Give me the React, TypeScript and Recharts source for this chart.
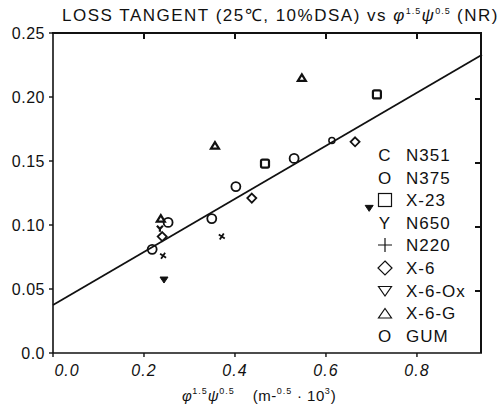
import React from 'react';
import { ScatterChart, Scatter, XAxis, YAxis, ReferenceLine } from 'recharts';

const xTicks = [0, 0.2, 0.4, 0.6, 0.8];
const xTickLabels = ['0.0', '0.2', '0.4', '0.6', '0.8'];
const yTicks = [0, 0.05, 0.1, 0.15, 0.2, 0.25];
const yTickLabels = ['0.0', '0.05', '0.10', '0.15', '0.20', '0.25'];
const xDomain = [0, 0.943];
const yDomain = [0, 0.25];

const seriesNames = ['N351', 'N375', 'X-23', 'N650', 'N220', 'X-6', 'X-6-Ox', 'X-6-G', 'GUM'];
const seriesKinds = ['C', 'O', 'square', 'Y', 'plus', 'diamond', 'triDown', 'triUp', 'O'];

// values
const n351 = [{ x: 0.613, y: 0.166 }];
const n375 = [
  { x: 0.349, y: 0.105 },
  { x: 0.402, y: 0.130 },
  { x: 0.530, y: 0.152 },
];
const x23 = [
  { x: 0.466, y: 0.148 },
  { x: 0.712, y: 0.202 },
];
const n650 = [{ x: 0.235, y: 0.097 }];
const n220 = [
  { x: 0.242, y: 0.076 },
  { x: 0.371, y: 0.091 },
];
const x6 = [
  { x: 0.240, y: 0.091 },
  { x: 0.437, y: 0.121 },
  { x: 0.664, y: 0.165 },
];
const x6ox = [
  { x: 0.244, y: 0.057 },
  { x: 0.695, y: 0.113 },
];
const x6g = [
  { x: 0.237, y: 0.105 },
  { x: 0.356, y: 0.162 },
  { x: 0.547, y: 0.215 },
];
const gum = [
  { x: 0.218, y: 0.081 },
  { x: 0.253, y: 0.102 },
];
const seriesData = [n351, n375, x23, n650, n220, x6, x6ox, x6g, gum];

// regression line end points
const fitX = [0, 0.943];
const fitY = [0.0375, 0.233];

const FONT = '"Liberation Sans", Arial, Helvetica, sans-serif';
const INK = '#111';

// chart box
const W = 501;
const H = 410;
const M = { top: 33, right: 19, bottom: 17, left: 0 };
const Y_AXIS_W = 53;
const X_AXIS_H = 40;
const plotL = M.left + Y_AXIS_W;
const plotT = M.top;
const plotW = W - M.right - plotL;
const plotH = H - M.bottom - X_AXIS_H - plotT;

const Marker = ({ kind, cx, cy }: { kind: string; cx: number; cy: number }) => {
  const sw = 1.8;
  switch (kind) {
    case 'C':
      return <circle cx={cx} cy={cy} r={3} fill="none" stroke={INK} strokeWidth={1.5} />;
    case 'O':
      return <circle cx={cx} cy={cy} r={4.5} fill="none" stroke={INK} strokeWidth={sw} />;
    case 'square':
      return <rect x={cx - 4} y={cy - 4} width={8} height={8} rx={1.5} fill="none" stroke={INK} strokeWidth={2.2} />;
    case 'Y':
      return (
        <path d={`M${cx - 3},${cy - 3} L${cx},${cy} L${cx + 3},${cy - 3} M${cx},${cy} L${cx},${cy + 3}`} stroke={INK} strokeWidth={2.2} fill="none" />
      );
    case 'plus':
      return (
        <path d={`M${cx - 3},${cy - 2} L${cx + 3},${cy + 2} M${cx - 2},${cy + 3} L${cx + 2},${cy - 3}`} stroke={INK} strokeWidth={1.8} fill="none" />
      );
    case 'diamond':
      return (
        <path d={`M${cx},${cy - 4.5} L${cx + 4.5},${cy} L${cx},${cy + 4.5} L${cx - 4.5},${cy} Z`} stroke={INK} strokeWidth={sw} fill="none" />
      );
    case 'triDown':
      return <path d={`M${cx - 4},${cy - 3} L${cx + 4},${cy - 3} L${cx},${cy + 3} Z`} fill={INK} stroke={INK} strokeWidth={1} />;
    case 'triUp':
      return <path d={`M${cx - 4},${cy + 3} L${cx + 4},${cy + 3} L${cx},${cy - 3.5} Z`} fill="#fff" stroke={INK} strokeWidth={2.2} />;
    default:
      return <circle cx={cx} cy={cy} r={4} fill="none" stroke={INK} />;
  }
};

const LegendGlyph = ({ kind }: { kind: string }) => {
  if (kind === 'C' || kind === 'O' || kind === 'Y') {
    return <span style={{ display: 'inline-block', width: 16, textAlign: 'center' }}>{kind}</span>;
  }
  const p = { fill: 'none', stroke: INK, strokeWidth: 1.2 };
  let shape: React.ReactNode = null;
  if (kind === 'square') shape = <rect x={1.5} y={1.5} width={13} height={13} {...p} />;
  if (kind === 'plus') shape = <path d="M1,8 L15,8 M8,1 L8,15" {...p} />;
  if (kind === 'diamond') shape = <path d="M8,1 L15,8 L8,15 L1,8 Z" {...p} />;
  if (kind === 'triDown') shape = <path d="M1.5,3.5 L14.5,3.5 L8,13 Z" {...p} />;
  if (kind === 'triUp') shape = <path d="M1.5,13 L14.5,13 L8,3.5 Z" {...p} />;
  return (
    <svg width={16} height={16} style={{ verticalAlign: '-2px' }}>
      {shape}
    </svg>
  );
};

const XTick = (props: any) => {
  const { x, y, payload } = props;
  const i = xTicks.indexOf(payload.value);
  // the 0.0 label sits right of the corner in the original
  const shift = payload.value === 0 ? 14 : 0;
  return (
    <text x={x + shift} y={y} dy="0.71em" textAnchor="middle" fontSize={16} fontStyle="italic" fontFamily={FONT} fill={INK} letterSpacing={1}>
      {xTickLabels[i]}
    </text>
  );
};

const YTick = (props: any) => {
  const { x, y, payload } = props;
  const i = yTicks.findIndex((t) => Math.abs(t - payload.value) < 1e-9);
  return (
    <text x={x} y={y} dy="0.355em" textAnchor="end" fontSize={16} fontFamily={FONT} fill={INK} letterSpacing={0.5}>
      {yTickLabels[i]}
    </text>
  );
};

// top and right edges of the box: a bordered div over the plot rect
const FrameBox = () => (
  <div
    style={{
      position: 'absolute',
      left: plotL - 1,
      top: plotT - 1,
      width: plotW + 1,
      height: plotH + 1,
      borderTop: `2px solid ${INK}`,
      borderRight: `2px solid ${INK}`,
      boxSizing: 'border-box',
      zIndex: 3,
      pointerEvents: 'none',
    }}
  >
    {xTicks.slice(1).map((t) => (
      <div
        key={`t${t}`}
        style={{
          position: 'absolute',
          top: 0,
          left: ((t - xDomain[0]) / (xDomain[1] - xDomain[0])) * plotW,
          width: 2,
          height: 5,
          background: INK,
        }}
      />
    ))}
    {yTicks.slice(1, -1).map((t) => (
      <div
        key={`r${t}`}
        style={{
          position: 'absolute',
          right: 0,
          top: plotH - ((t - yDomain[0]) / (yDomain[1] - yDomain[0])) * plotH,
          width: 5,
          height: 2,
          background: INK,
        }}
      />
    ))}
  </div>
);

const sup: React.CSSProperties = { fontSize: 9, verticalAlign: 7, letterSpacing: 1 };

export default function App() {
  const axisLine = { stroke: INK, strokeWidth: 1.6 };
  const tickLine = { stroke: INK, strokeWidth: 1.4 };
  return (
    <div style={{ position: 'absolute', left: 0, top: 0, width: W, height: H, background: '#fff', fontFamily: FONT, color: INK }}>
      <div style={{ position: 'absolute', left: 62, top: 0, fontSize: 17, letterSpacing: 1.5, whiteSpace: 'nowrap', lineHeight: '22px' }}>
        LOSS TANGENT (25℃, 10%DSA) vs <i>φ</i>
        <span style={sup}>1.5</span>
        <i>ψ</i>
        <span style={sup}>0.5</span> (NR)
      </div>
      <ScatterChart width={W} height={H} margin={M}>
        <XAxis
          type="number"
          dataKey="x"
          domain={xDomain}
          ticks={xTicks}
          allowDataOverflow
          height={X_AXIS_H}
          tickSize={4}
          tickMargin={8}
          axisLine={axisLine}
          tickLine={tickLine}
          tick={<XTick />}
        />
        <YAxis
          type="number"
          dataKey="y"
          domain={yDomain}
          ticks={yTicks}
          allowDataOverflow
          width={Y_AXIS_W}
          tickSize={4}
          tickMargin={4}
          axisLine={axisLine}
          tickLine={tickLine}
          tick={<YTick />}
        />
        <ReferenceLine
          segment={[
            { x: fitX[0], y: fitY[0] },
            { x: fitX[1], y: fitY[1] },
          ]}
          stroke={INK}
          strokeWidth={1.8}
        />
        {seriesData.map((d, i) => (
          <Scatter
            key={seriesNames[i]}
            name={seriesNames[i]}
            data={d}
            isAnimationActive={false}
            shape={(p: any) => <Marker kind={seriesKinds[i]} cx={p.cx} cy={p.cy} />}
          />
        ))}
      </ScatterChart>
      <FrameBox />
      <div style={{ position: 'absolute', left: 377, top: 145, fontSize: 17, lineHeight: '22.6px', letterSpacing: 1 }}>
        {seriesNames.map((n, i) => (
          <div key={n} style={{ whiteSpace: 'nowrap' }}>
            <LegendGlyph kind={seriesKinds[i]} />
            <span style={{ marginLeft: 13 }}>{n}</span>
          </div>
        ))}
      </div>
      <div style={{ position: 'absolute', left: 182, top: 386, fontSize: 15, whiteSpace: 'nowrap', letterSpacing: 0.5 }}>
        <i>φ</i>
        <span style={sup}>1.5</span>
        <i>ψ</i>
        <span style={sup}>0.5</span>
        <span style={{ marginLeft: 18 }}>(m-</span>
        <span style={sup}>0.5</span> · 10<span style={sup}>3</span>)
      </div>
    </div>
  );
}
